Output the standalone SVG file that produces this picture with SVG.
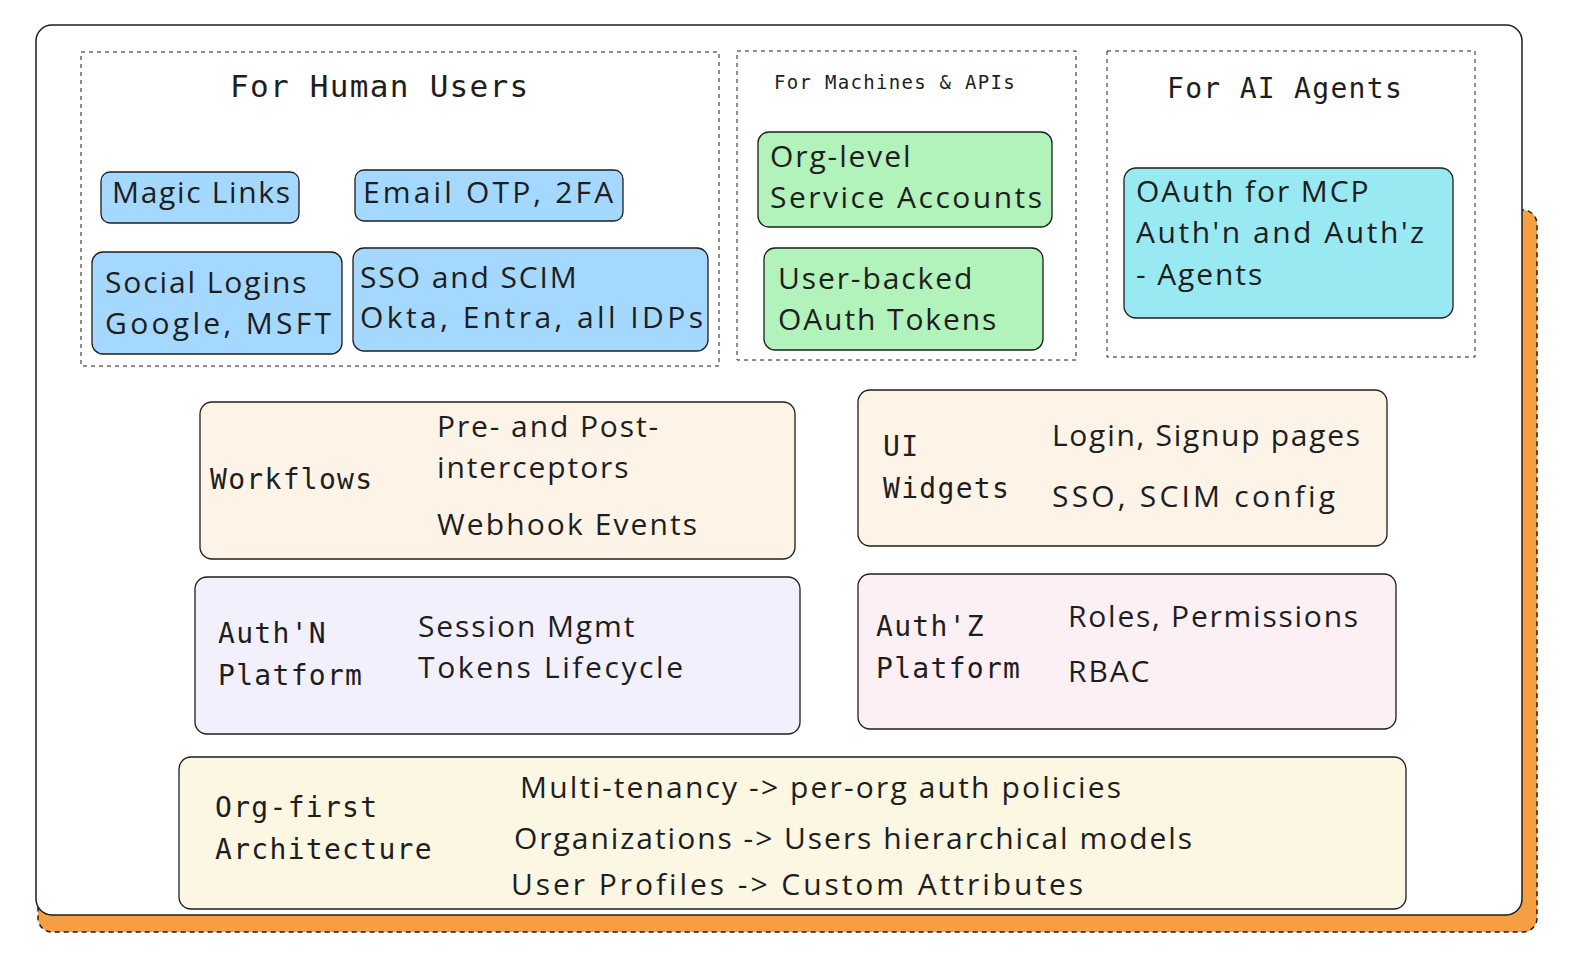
<svg xmlns="http://www.w3.org/2000/svg" width="1572" height="966" viewBox="0 0 1572 966">
<style>
.hand{font-family:"Open Sans","Liberation Sans",sans-serif;fill:#1e1e1e;font-size:30px;letter-spacing:1.9px}
.mono{font-family:"DejaVu Sans Mono","Liberation Mono",monospace;fill:#1e1e1e;letter-spacing:1.3px}
.box{stroke:#1e1e1e;stroke-width:1.3}
.grp{fill:none;stroke:#1e1e1e;stroke-width:1;stroke-dasharray:4 4}
</style>
<rect width="1572" height="966" fill="#fff"/>
<g id="shadow"><rect x="38" y="210" width="1499" height="722" rx="14" fill="#f59e42" stroke="#1e1e1e" stroke-width="1.5" stroke-dasharray="5 4"/></g>
<g id="frame"><rect x="36" y="25" width="1486" height="890" rx="16" fill="#fff" stroke="#1e1e1e" stroke-width="1.5"/></g>
<g id="human">
<rect class="grp" x="81" y="52" width="638" height="314"/>
<text class="mono" x="230" y="97" font-size="31">For Human Users</text>
<rect class="box" x="101" y="172" width="198" height="51" rx="9" fill="#a5d8ff"/>
<text class="hand" x="112" y="203" textLength="180">Magic Links</text>
<rect class="box" x="355" y="170" width="268" height="51" rx="9" fill="#a5d8ff"/>
<text class="hand" x="363" y="203" textLength="252">Email OTP, 2FA</text>
<rect class="box" x="92" y="252" width="250" height="102" rx="11" fill="#a5d8ff"/>
<text class="hand" x="105" y="293">Social Logins</text>
<text class="hand" x="105" y="334" textLength="228">Google, MSFT</text>
<rect class="box" x="353" y="248" width="355" height="103" rx="11" fill="#a5d8ff"/>
<text class="hand" x="360" y="288">SSO and SCIM</text>
<text class="hand" x="360" y="328" textLength="345">Okta, Entra, all IDPs</text>
</g>
<g id="machines">
<rect class="grp" x="737" y="51" width="339" height="309"/>
<text class="mono" x="774" y="89" font-size="19">For Machines &amp; APIs</text>
<rect class="box" x="758" y="132" width="294" height="95" rx="11" fill="#b2f2bb"/>
<text class="hand" x="770" y="167">Org-level</text>
<text class="hand" x="770" y="208" textLength="274">Service Accounts</text>
<rect class="box" x="764" y="248" width="279" height="102" rx="11" fill="#b2f2bb"/>
<text class="hand" x="778" y="289">User-backed</text>
<text class="hand" x="778" y="330">OAuth Tokens</text>
</g>
<g id="agents">
<rect class="grp" x="1107" y="51" width="368" height="306"/>
<text class="mono" x="1167" y="98" font-size="28">For AI Agents</text>
<rect class="box" x="1124" y="168" width="329" height="150" rx="12" fill="#99e9f2"/>
<text class="hand" x="1136" y="202">OAuth for MCP</text>
<text class="hand" x="1136" y="243" textLength="290">Auth'n and Auth'z</text>
<text class="hand" x="1136" y="285">- Agents</text>
</g>
<g id="workflows">
<rect class="box" x="200" y="402" width="595" height="157" rx="12" fill="#fdf3e7"/>
<text class="mono" x="210" y="489" font-size="28">Workflows</text>
<text class="hand" x="437" y="437">Pre- and Post-</text>
<text class="hand" x="437" y="478">interceptors</text>
<text class="hand" x="437" y="535" textLength="262">Webhook Events</text>
</g>
<g id="ui">
<rect class="box" x="858" y="390" width="529" height="156" rx="12" fill="#fdf3e7"/>
<text class="mono" x="883" y="456" font-size="28">UI</text>
<text class="mono" x="883" y="498" font-size="28">Widgets</text>
<text class="hand" x="1052" y="446" textLength="310">Login, Signup pages</text>
<text class="hand" x="1052" y="507" textLength="285">SSO, SCIM config</text>
</g>
<g id="authn">
<rect class="box" x="195" y="577" width="605" height="157" rx="12" fill="#f1f0fc"/>
<text class="mono" x="218" y="643" font-size="28">Auth'N</text>
<text class="mono" x="218" y="685" font-size="28">Platform</text>
<text class="hand" x="418" y="637">Session Mgmt</text>
<text class="hand" x="418" y="678" textLength="267">Tokens Lifecycle</text>
</g>
<g id="authz">
<rect class="box" x="858" y="574" width="538" height="155" rx="12" fill="#fcf0f5"/>
<text class="mono" x="876" y="636" font-size="28">Auth'Z</text>
<text class="mono" x="876" y="678" font-size="28">Platform</text>
<text class="hand" x="1068" y="627" textLength="292">Roles, Permissions</text>
<text class="hand" x="1068" y="682">RBAC</text>
</g>
<g id="org">
<rect class="box" x="179" y="757" width="1227" height="152" rx="12" fill="#fcf7e3"/>
<text class="mono" x="215" y="817" font-size="28">Org-first</text>
<text class="mono" x="215" y="859" font-size="28">Architecture</text>
<text class="hand" x="520" y="798" textLength="603">Multi-tenancy -&gt; per-org auth policies</text>
<text class="hand" x="514" y="849" textLength="680">Organizations -&gt; Users hierarchical models</text>
<text class="hand" x="511" y="895" textLength="574">User Profiles -&gt; Custom Attributes</text>
</g>
<g id="connectors"/>
</svg>
